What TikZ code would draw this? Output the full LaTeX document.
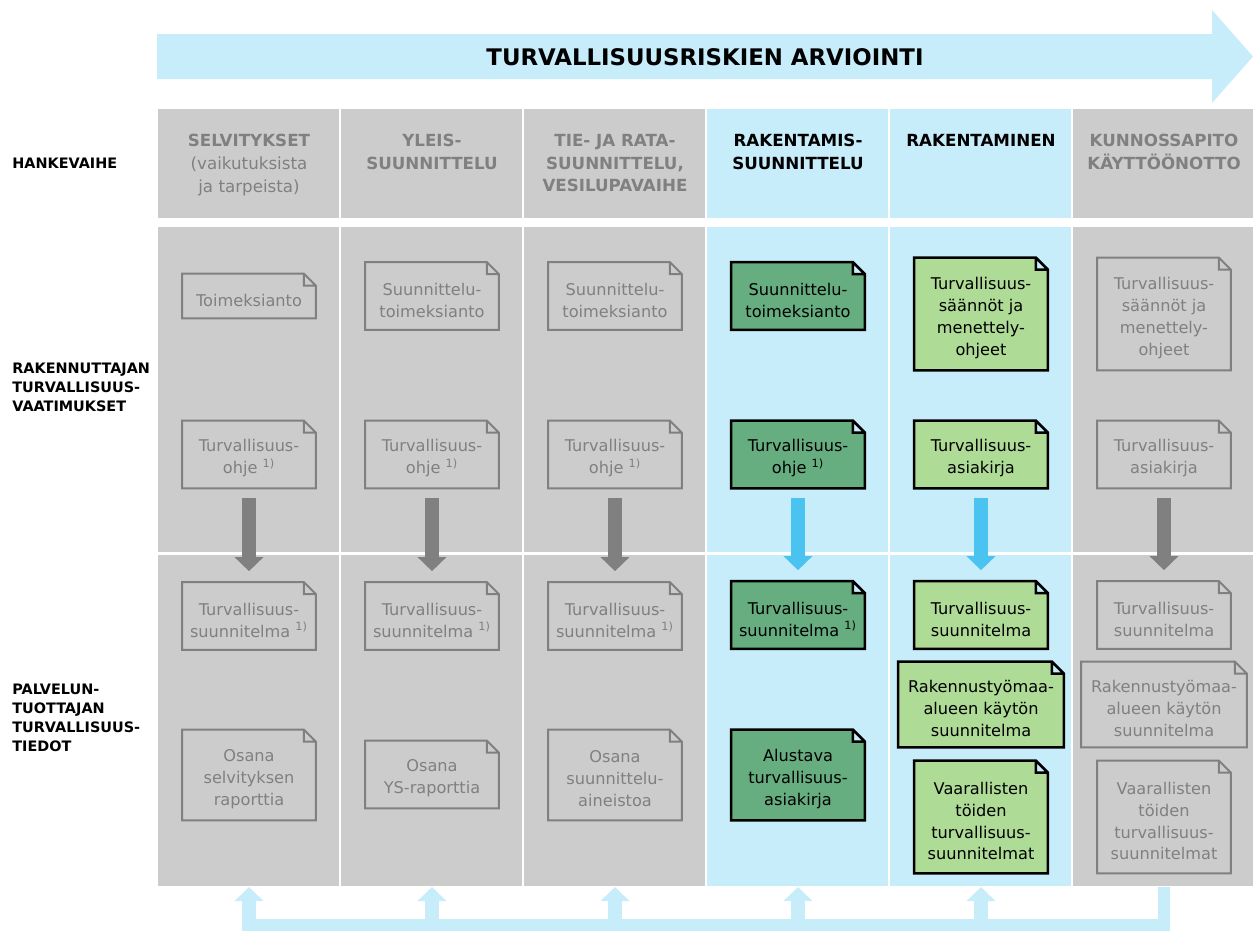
\documentclass[tikz,border=0pt]{standalone}
\usepackage{fontspec}
\setmainfont{DejaVu Sans}
\usetikzlibrary{arrows.meta}

\definecolor{grayfill}{HTML}{CCCCCC}
\definecolor{graytext}{HTML}{808080}
\definecolor{lightblue}{HTML}{C7ECFA}
\definecolor{arrowblue}{HTML}{4BC3F0}
\definecolor{darkgreen}{HTML}{66AD80}
\definecolor{lightgreen}{HTML}{AEDB96}

\pgfdeclarelayer{cols}
\pgfdeclarelayer{docs}
\pgfsetlayers{cols,docs,main}

\newcommand{\fnote}{\textsuperscript{1)}}

\tikzset{
  doc/.style={align=center, inner sep=1pt, minimum width=2.66cm, font=\fontsize{9.2}{12.5}\selectfont, yshift=-0.08cm},
  gdoc/.style={doc, text=graytext},
  bdoc/.style={doc, text=black},
  wide/.style={minimum width=3.3cm},
  lines1/.style={minimum height=0.88cm},
  lines2/.style={minimum height=1.34cm},
  lines3/.style={minimum height=1.8cm},
  lines4/.style={minimum height=2.24cm},
  phase/.style={anchor=north, align=center, inner sep=0pt, font=\bfseries\fontsize{9.5}{12.9}\selectfont},
  rowlabel/.style={anchor=west, align=left, inner sep=0pt, font=\bfseries\fontsize{8.2}{10.8}\selectfont},
  downarrow/.style={line width=0.28cm, -{Triangle[width=0.56cm,length=0.28cm]}, shorten <=0.12cm, shorten >=0.3cm},
  feedarrow/.style={line width=0.28cm, lightblue, -{Triangle[width=0.56cm,length=0.28cm]}},
  feedline/.style={line width=0.24cm, lightblue, shorten >=-0.14cm},
}

\begin{document}
\begin{tikzpicture}[x=0.02cm, y=-0.02cm]
    \useasboundingbox (0,0) rectangle (1253,930);
    % Big arrow on top
    \fill[lightblue] (157,34) -- (1212,34) -- (1212,10) -- (1253,56.5) -- (1212,103) -- (1212,79) -- (157,79) -- cycle;
    \node[font=\bfseries\fontsize{13}{15}\selectfont] (title) at (705,57) {TURVALLISUUSRISKIEN ARVIOINTI};
    % Columns of the phases
    \begin{pgfonlayer}{cols}
    \foreach \k/\c in {0/grayfill, 1/grayfill, 2/grayfill, 3/lightblue, 4/lightblue, 5/grayfill} {
        \fill[\c] (158+183*\k,109) rectangle +(181,109);
        \fill[\c] (158+183*\k,227) rectangle +(181,325);
        \fill[\c] (158+183*\k,555) rectangle +(181,331);
    }
    \end{pgfonlayer}
    % Row labels
    \node[rowlabel] (hanke) at (12,163) {HANKEVAIHE};
    \node[rowlabel] (rakennuttaja) at (12,387) {RAKENNUTTAJAN\\TURVALLISUUS-\\VAATIMUKSET};
    \node[rowlabel] (palvelu) at (12,718) {PALVELUN-\\TUOTTAJAN\\TURVALLISUUS-\\TIEDOT};
    % Phase headers
    \node[phase, text=graytext] (h1) at (249,134) {SELVITYKSET\\\mdseries(vaikutuksista\\\mdseries ja tarpeista)};
    \node[phase, text=graytext] (h2) at (432,134) {YLEIS-\\SUUNNITTELU};
    \node[phase, text=graytext] (h3) at (615,134) {TIE- JA RATA-\\SUUNNITTELU,\\VESILUPAVAIHE};
    \node[phase] (h4) at (798,134) {RAKENTAMIS-\\SUUNNITTELU};
    \node[phase] (h5) at (981,134) {RAKENTAMINEN};
    \node[phase, text=graytext] (h6) at (1164,134) {KUNNOSSAPITO\\KÄYTTÖÖNOTTO};
    % Documents, first three phases
    \node[gdoc, lines1] (toim1) at (249,296) {Toimeksianto};
    \foreach \k in {2,3} {
        \node[gdoc, lines2] (toim\k) at (66+183*\k,296) {Suunnittelu-\\toimeksianto};
    }
    \foreach \k in {1,2,3} {
        \node[gdoc, lines2] (ohje\k) at (66+183*\k,454.5) {Turvallisuus-\\ohje \fnote};
        \node[gdoc, lines2] (suun\k) at (66+183*\k,616) {Turvallisuus-\\suunnitelma \fnote};
    }
    \node[gdoc, lines3] (osa1) at (249,775) {Osana\\selvityksen\\raporttia};
    \node[gdoc, lines2] (osa2) at (432,774.5) {Osana\\YS-raporttia};
    \node[gdoc, lines3] (osa3) at (615,775) {Osana\\suunnittelu-\\aineistoa};
    % Documents, rakentamissuunnittelu
    \node[bdoc, lines2] (toim4) at (798,296) {Suunnittelu-\\toimeksianto};
    \node[bdoc, lines2] (ohje4) at (798,454.5) {Turvallisuus-\\ohje \fnote};
    \node[bdoc, lines2] (suun4) at (798,615) {Turvallisuus-\\suunnitelma \fnote};
    \node[bdoc, lines3] (osa4) at (798,775) {Alustava\\turvallisuus-\\asiakirja};
    % Documents, rakentaminen and kunnossapito
    \foreach \k/\s in {5/bdoc, 6/gdoc} {
        \node[\s, lines4] (toim\k) at (66+183*\k,314) {Turvallisuus-\\säännöt ja\\menettely-\\ohjeet};
        \node[\s, lines2] (ohje\k) at (66+183*\k,454.5) {Turvallisuus-\\asiakirja};
        \node[\s, lines2] (suun\k) at (66+183*\k,615) {Turvallisuus-\\suunnitelma};
        \node[\s, lines3, wide, minimum height=1.7cm] (rak\k) at (66+183*\k,704.5) {Rakennustyömaa-\\alueen käytön\\suunnitelma};
        \node[\s, lines4] (vaar\k) at (66+183*\k,817) {Vaarallisten\\töiden\\turvallisuus-\\suunnitelmat};
    }
    % Paper shapes behind the texts
    \begin{pgfonlayer}{docs}
    \foreach \n/\f/\d/\w in {toim1/grayfill/graytext/1.1pt, ohje1/grayfill/graytext/1.1pt, suun1/grayfill/graytext/1.1pt, osa1/grayfill/graytext/1.1pt,
                             toim2/grayfill/graytext/1.1pt, ohje2/grayfill/graytext/1.1pt, suun2/grayfill/graytext/1.1pt, osa2/grayfill/graytext/1.1pt,
                             toim3/grayfill/graytext/1.1pt, ohje3/grayfill/graytext/1.1pt, suun3/grayfill/graytext/1.1pt, osa3/grayfill/graytext/1.1pt,
                             toim4/darkgreen/black/1.5pt, ohje4/darkgreen/black/1.5pt, suun4/darkgreen/black/1.5pt, osa4/darkgreen/black/1.5pt,
                             toim5/lightgreen/black/1.5pt, ohje5/lightgreen/black/1.5pt, suun5/lightgreen/black/1.5pt, rak5/lightgreen/black/1.5pt, vaar5/lightgreen/black/1.5pt,
                             toim6/grayfill/graytext/1.1pt, ohje6/grayfill/graytext/1.1pt, suun6/grayfill/graytext/1.1pt, rak6/grayfill/graytext/1.1pt, vaar6/grayfill/graytext/1.1pt} {
        \filldraw[fill=\f, draw=\d, line width=\w] ([yshift=0.08cm]\n.north west) -- ([xshift=-0.24cm,yshift=0.08cm]\n.north east)
            -- ([yshift=-0.16cm]\n.north east) -- ([yshift=0.08cm]\n.south east) -- ([yshift=0.08cm]\n.south west) -- cycle
            ([xshift=-0.24cm,yshift=0.08cm]\n.north east) |- ([yshift=-0.16cm]\n.north east);
    }
    \end{pgfonlayer}
    % Arrows from the requirements to the plans
    \foreach \k/\c in {1/graytext, 2/graytext, 3/graytext, 4/arrowblue, 5/arrowblue, 6/graytext} {
        \draw[downarrow, \c] (ohje\k) -- (suun\k);
    }
    % Feedback below the columns
    \foreach \k in {1,...,6} {
        \coordinate (foot\k) at (66+183*\k,887);
        \coordinate (base\k) at (66+183*\k,925);
    }
    \draw[feedline] (foot6) |- (base1);
    \foreach \k in {1,...,5} {
        \draw[feedarrow] (base\k) -- (foot\k);
    }
\end{tikzpicture}
\end{document}
